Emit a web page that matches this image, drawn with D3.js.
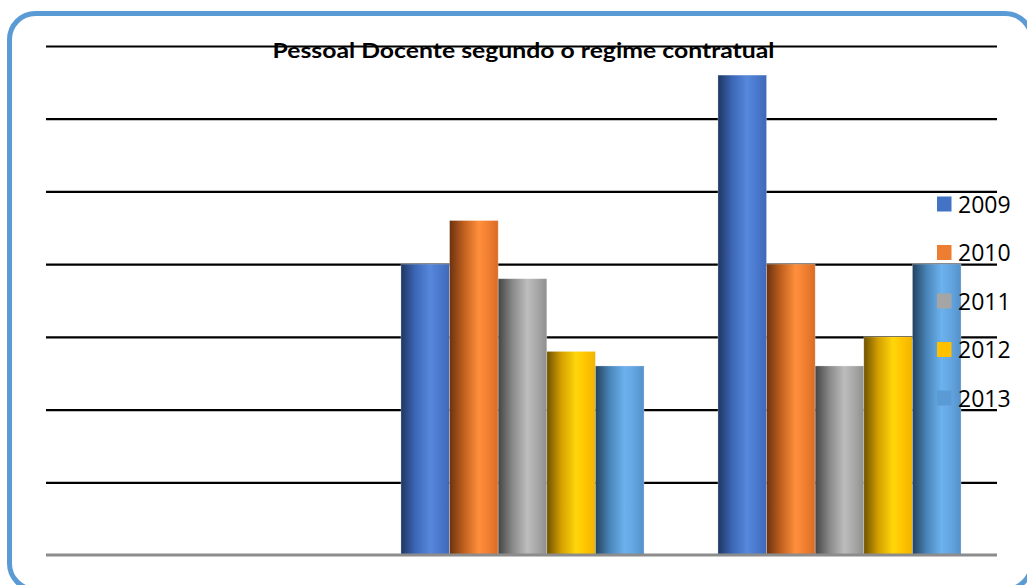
<!DOCTYPE html>
<html>
<head>
<meta charset="utf-8">
<script src="https://cdn.jsdelivr.net/npm/d3@7/dist/d3.min.js"></script>
<style>
  html, body { margin: 0; padding: 0; background: #fff; }
  svg { display: block; }
</style>
</head>
<body>
<svg id="chart" width="1027" height="585"></svg>
<script>
// ---- data ----
const title = "Pessoal Docente segundo o regime contratual";
const categories = ["Categoria A", "Categoria B", "Categoria C"];
const series = ["2009", "2010", "2011", "2012", "2013"];
const values2009 = [0, 20, 33];
const values2010 = [0, 23, 20];
const values2011 = [0, 19, 13];
const values2012 = [0, 14, 15];
const values2013 = [0, 13, 20];
const yTicks = [0, 5, 10, 15, 20, 25, 30, 35];

const seriesValues = [values2009, values2010, values2011, values2012, values2013];
const colors = ["#4472C4", "#ED7D31", "#A5A5A5", "#FFC000", "#5B9BD5"];
const gradStops = [
  ["#1f3761", "#3d67b8", "#5688dc", "#4a78cc", "#4068b8"],
  ["#6a3210", "#c2611f", "#ff8f3c", "#f07e30", "#d86c24"],
  ["#444444", "#8a8a8a", "#bdbdbd", "#a8a8a8", "#8f8f8f"],
  ["#6e5200", "#d4a000", "#ffd60a", "#ffc400", "#f0b400"],
  ["#23425e", "#4a86bb", "#6cb2ee", "#62a4e0", "#5590c8"]
];

const svg = d3.select("#chart");

// border
svg.append("rect")
  .attr("x", 9.5).attr("y", 13.5)
  .attr("width", 1022).attr("height", 576)
  .attr("rx", 26).attr("ry", 26)
  .attr("fill", "#fff")
  .attr("stroke", "#5B9BD5")
  .attr("stroke-width", 5);

const plot = { left: 46, right: 997, top: 46, bottom: 555 };

const x0 = d3.scaleBand().domain(categories).range([47, 998]).paddingInner(0).paddingOuter(0);
const x1 = d3.scaleBand().domain(series).range([0, x0.bandwidth()]).paddingInner(0).paddingOuter(0.76);
const y = d3.scaleLinear().domain([0, 35]).range([plot.bottom, plot.top]);

// gradients
const defs = svg.append("defs");
series.forEach((s, i) => {
  const g = defs.append("linearGradient").attr("id", "g" + i)
    .attr("x1", "0").attr("x2", "1").attr("y1", "0").attr("y2", "0");
  const offs = [0, 0.3, 0.6, 0.8, 1];
  gradStops[i].forEach((c, k) => g.append("stop").attr("offset", offs[k]).attr("stop-color", c));
});

// title (gridline passes over it)
svg.append("text")
  .attr("x", 523.5).attr("y", 58)
  .attr("text-anchor", "middle")
  .attr("font-family", "Lato, 'Open Sans', sans-serif")
  .attr("font-weight", "bold")
  .attr("font-size", 21)
  .attr("textLength", 502)
  .attr("lengthAdjust", "spacingAndGlyphs")
  .attr("fill", "#000")
  .text(title);

// gridlines
const grid = svg.append("g").attr("transform", `translate(${plot.left},0)`)
  .call(d3.axisLeft(y).tickValues(yTicks.filter(t => t > 0)).tickSize(-(plot.right - plot.left)).tickFormat(""));
grid.select(".domain").remove();
grid.selectAll(".tick line").attr("stroke", "#000").attr("stroke-width", 2.2);

// bars
const groups = svg.append("g").selectAll("g").data(categories).join("g")
  .attr("transform", d => `translate(${x0(d)},0)`);
groups.selectAll("rect")
  .data((c, ci) => series.map((s, si) => ({ s, si, v: seriesValues[si][ci] })))
  .join("rect")
  .filter(d => d.v > 0)
  .attr("x", d => x1(d.s))
  .attr("width", x1.bandwidth())
  .attr("y", d => y(d.v))
  .attr("height", d => y(0) - y(d.v))
  .attr("fill", d => `url(#g${d.si})`)
  .attr("stroke", "rgba(255,255,255,0.35)")
  .attr("stroke-width", 0.8);

// baseline
svg.append("line")
  .attr("x1", plot.left).attr("x2", plot.right)
  .attr("y1", y(0)).attr("y2", y(0))
  .attr("stroke", "#8c8c8c").attr("stroke-width", 3);

// legend
const legend = svg.append("g").selectAll("g").data(series).join("g")
  .attr("transform", (d, i) => `translate(937, ${204 + i * 48.5})`);
legend.append("rect")
  .attr("x", 0).attr("y", -7.5).attr("width", 14.5).attr("height", 15)
  .attr("fill", (d, i) => colors[i]);
legend.append("text")
  .attr("x", 21).attr("y", 8.5)
  .attr("font-family", "'Open Sans', sans-serif")
  .attr("font-size", 23)
  .attr("fill", "#000")
  .text(d => d);
</script>
</body>
</html>
